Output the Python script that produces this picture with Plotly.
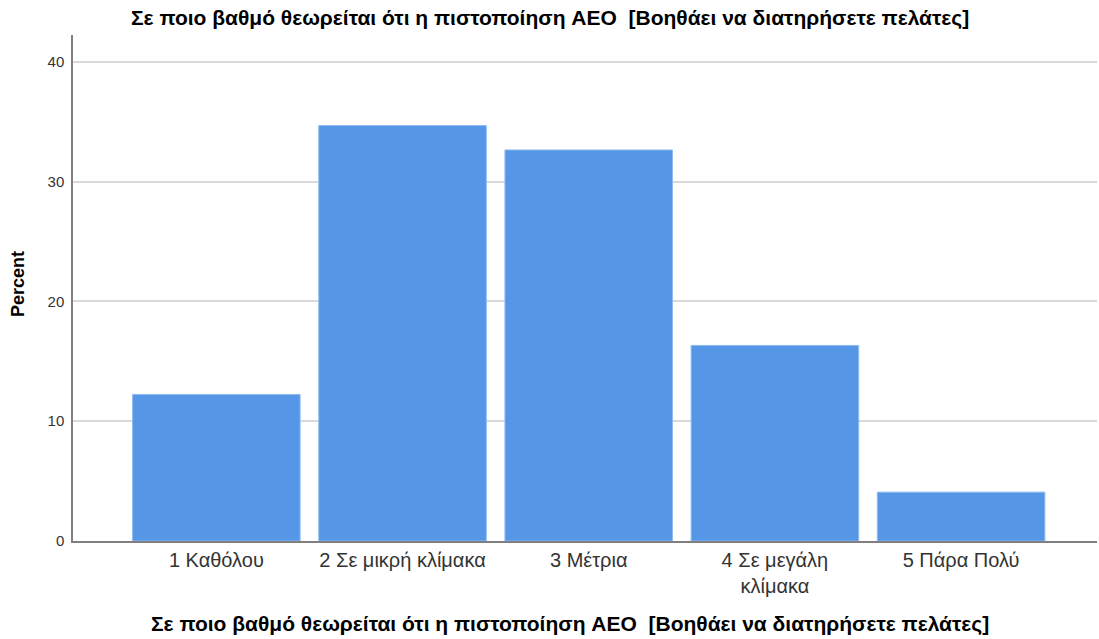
import plotly.graph_objects as go

categories = ["1 Καθόλου", "2 Σε μικρή κλίμακα", "3 Μέτρια", "4 Σε μεγάλη<br>κλίμακα", "5 Πάρα Πολύ"]
percent = [12.24, 34.69, 32.65, 16.33, 4.08]
y_ticks = [0, 10, 20, 30, 40]

title_text = "Σε ποιο βαθμό θεωρείται ότι η πιστοποίηση AEO  [Βοηθάει να διατηρήσετε πελάτες]"
y_title = "Percent"

fig = go.Figure(go.Bar(
    x=list(range(len(categories))),
    y=percent,
    marker=dict(color="#5596E6", line=dict(color="#8fbbf0", width=1)),
    width=0.9,
    hoverinfo="y",
))

fig.update_layout(
    width=1099, height=639,
    margin=dict(l=73, r=2, t=35, b=98, autoexpand=False),
    paper_bgcolor="white", plot_bgcolor="white",
    showlegend=False,
    font=dict(family="Liberation Sans, Arial", color="#333333"),
    annotations=[
        dict(text="<b>" + title_text + "</b>", xref="paper", yref="paper",
             x=0.466, y=1.0, yshift=17, xanchor="center", yanchor="middle",
             showarrow=False, font=dict(size=21, color="#000000")),
        dict(text="<b>" + title_text + "</b>", xref="paper", yref="paper",
             x=0.485, y=0.0, yshift=-83, xanchor="center", yanchor="middle",
             showarrow=False, font=dict(size=21, color="#000000")),
        dict(text="<b>" + y_title + "</b>", xref="paper", yref="paper",
             x=0.0, xshift=-55, y=0.508, xanchor="center", yanchor="middle",
             textangle=-90, showarrow=False, font=dict(size=18, color="#000000")),
    ],
)
fig.update_xaxes(
    range=[-0.77, 4.73], automargin=False,
    tickmode="array", tickvals=list(range(len(categories))), ticktext=categories,
    tickfont=dict(size=20, color="#333333"),
    showline=True, linecolor="#7f7f7f", linewidth=1.5,
    showgrid=False, ticks="", zeroline=False,
)
fig.update_yaxes(
    range=[0, 42.25], automargin=False,
    tickmode="array", tickvals=y_ticks,
    tickfont=dict(size=15, color="#333333"),
    showline=True, linecolor="#7f7f7f", linewidth=1.5,
    showgrid=True, gridcolor="#d9d9d9", gridwidth=1.5,
    ticks="", ticklabelstandoff=4,
    zeroline=False,
)

fig.write_html("out.html", config={"displayModeBar": False},
               post_script="document.body.style.margin='0';")
